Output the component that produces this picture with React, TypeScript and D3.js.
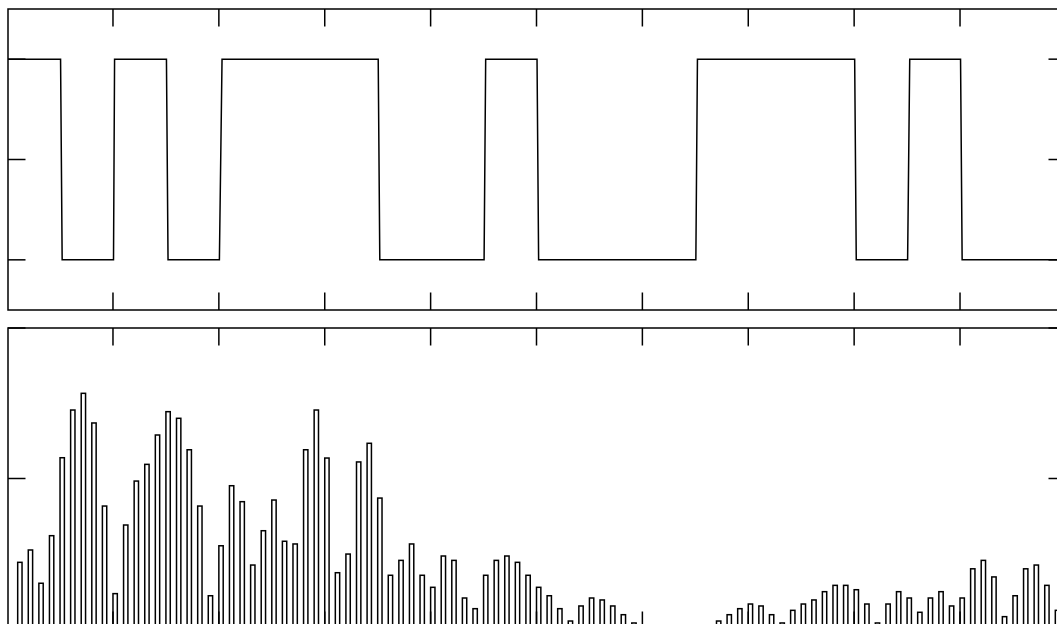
import * as d3 from "d3";
import React from "react";

// top panel: two-level signal, switching on 5-unit blocks
const waveX = [0, 5.05, 5.2, 10.05, 10.15, 15.05, 15.2, 20.05, 20.3, 35.05, 35.2, 45.05, 45.2,
  50.05, 50.2, 65.05, 65.2, 80.05, 80.2, 85.05, 85.25, 90.05, 90.2, 100];
const waveY = [2, 2, 0, 0, 2, 2, 0, 0, 2, 2, 0, 0, 2, 2, 0, 0, 2, 2, 0, 0, 2, 2, 0, 0];

// bottom panel: one bar per unit, bar 1..99
const barValues = [
  4.43, 5.25, 3.04, 6.2, 11.38, 14.55, 15.66, 13.69, 8.17, 2.35,
  6.91, 9.83, 10.94, 12.89, 14.44, 14.0, 11.91, 8.17, 2.21, 5.53,
  9.52, 8.46, 4.25, 6.53, 8.57, 5.83, 5.65, 11.91, 14.55, 11.36,
  3.74, 4.98, 11.1, 12.34, 8.7, 3.57, 4.56, 5.65, 3.57, 2.77,
  4.85, 4.56, 2.06, 1.35, 3.57, 4.56, 4.85, 4.43, 3.57, 2.77,
  2.21, 1.35, 0.53, 1.53, 2.06, 1.93, 1.53, 0.95, 0.4, 0,
  0, 0, 0, 0, 0, 0, 0.53, 0.95, 1.35, 1.66,
  1.53, 0.95, 0.4, 1.24, 1.66, 1.93, 2.48, 2.9, 2.9, 2.61,
  1.66, 0.4, 1.66, 2.48, 2.06, 1.11, 2.06, 2.48, 1.53, 2.06,
  4.0, 4.56, 3.46, 0.82, 2.21, 4.0, 4.25, 2.9, 1.24,
];

const xTicks = [10, 20, 30, 40, 50, 60, 70, 80, 90];
const topYTicks = [0, 1, 2];
const bottomYTicks = [0, 10, 20];

const W = 1057, H = 624;
const left = 8, right = 1066;
const top1 = 9, bot1 = 310;
const top2 = 328, bot2 = 629;
const tickLen = 17.5;
const sw = 1.5;

function Frame({ y0, y1, yScale, yTicks, x }) {
  return (
    <g stroke="#000" strokeWidth={sw} fill="none">
      <rect x={left} y={y0} width={right - left} height={y1 - y0} />
      {xTicks.map(t => (
        <g key={"x" + t}>
          <line x1={x(t)} x2={x(t)} y1={y0} y2={y0 + tickLen} />
          <line x1={x(t)} x2={x(t)} y1={y1} y2={y1 - tickLen} />
        </g>
      ))}
      {yTicks.map(t => (
        <g key={"y" + t}>
          <line x1={left} x2={left + tickLen} y1={yScale(t)} y2={yScale(t)} />
          <line x1={right} x2={right - tickLen} y1={yScale(t)} y2={yScale(t)} />
        </g>
      ))}
    </g>
  );
}

export default function App() {
  const x = d3.scaleLinear().domain([0, 100]).range([7.1, 1065.9]);
  const yTop = d3.scaleLinear().domain([-0.5, 2.5]).range([bot1, top1]);
  const yBot = d3.scaleLinear().domain([0, 20]).range([bot2, top2]);

  const wave = waveX.map((v, i) => [v, waveY[i]]);
  const line = d3.line().x(d => x(d[0])).y(d => yTop(d[1]));

  return (
    <svg width={W} height={H} style={{ position: "absolute", left: 0, top: 0, background: "#fff" }}>
      <defs>
        <clipPath id="c1"><rect x={left} y={top1} width={right - left} height={bot1 - top1} /></clipPath>
        <clipPath id="c2"><rect x={left} y={top2} width={right - left} height={bot2 - top2} /></clipPath>
      </defs>
      <rect x={0} y={0} width={W} height={H} fill="#fff" />
      <path d={line(wave)} fill="none" stroke="#000" strokeWidth={sw} clipPath="url(#c1)" />
      <g clipPath="url(#c2)">
        {barValues.map((v, i) => {
          const n = i + 1;
          return (
            <rect key={n} x={x(n)} width={x(n + 0.41) - x(n)}
              y={yBot(v)} height={yBot(0) - yBot(v)}
              fill="#fff" stroke="#000" strokeWidth={sw} />
          );
        })}
      </g>
      <Frame y0={top1} y1={bot1} yScale={yTop} yTicks={topYTicks} x={x} />
      <Frame y0={top2} y1={bot2} yScale={yBot} yTicks={bottomYTicks} x={x} />
    </svg>
  );
}
